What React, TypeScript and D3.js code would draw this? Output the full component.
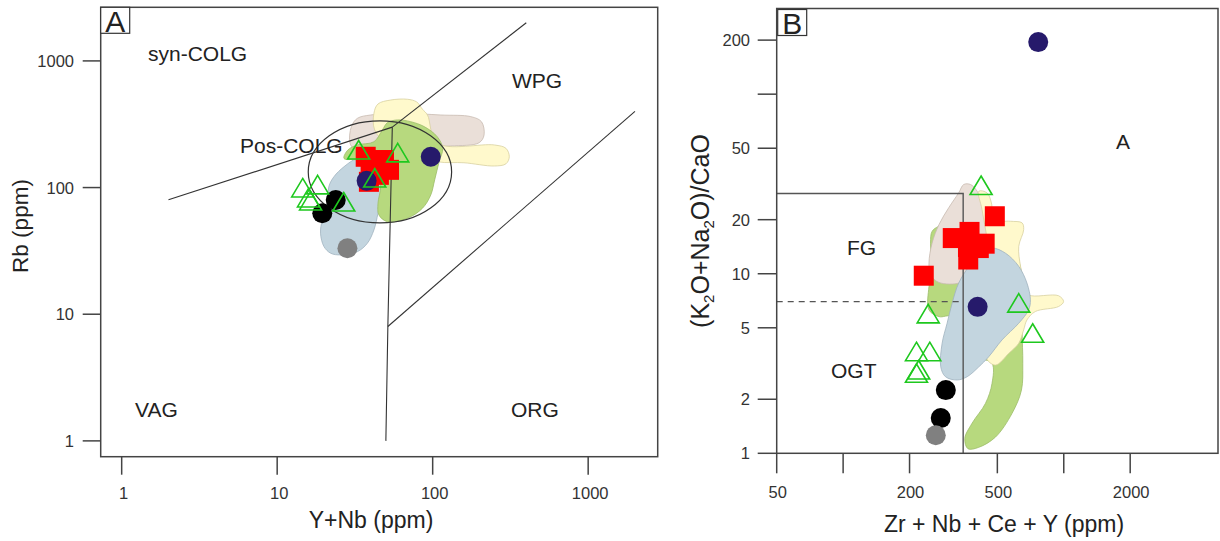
import React from 'react';
import * as d3 from 'd3';

type P = [number, number];

// ---------- Panel A (Rb vs Y+Nb) ----------
const aXTicks = [1, 10, 100, 1000];
const aYTicks = [1, 10, 100, 1000];

const aBeige: P[] = [[29.4,224],[30.0,303],[32.8,352],[39.9,374],[62.3,386],[113,374],[176,363],[206,331],[214,260],[199,226],[131,213],[79.8,210],[41.9,210],[31.2,204]];
const aYellow: P[] = [[42.4,285],[41.9,386],[44.5,457],[53.7,491],[68.8,498],[79.0,474],[86.0,415],[92.6,374],[107,224],[249,217],[296,204],[311,175],[296,154],[249,148],[159,157],[107,160],[53.7,210]];
const aBlue: P[] = [[32.8,170],[44.1,170],[51.1,155],[49.9,115],[46.3,79.8],[44.5,62.7],[41.9,46.3],[38.0,36.3],[32.8,31.2],[25.6,29.4],[22.1,30.3],[20.0,34.2],[19.0,43.6],[19.5,55.5],[21.0,70.7],[21.5,102],[23.2,122],[26.9,146]];
const aGreen: P[] = [[26.9,170],[28.5,198],[32.8,217],[41.9,230],[47.5,285],[51.1,325],[59.3,342],[72.3,331],[88.1,303],[107,252],[116,204],[110,160],[103,115],[97.2,87.4],[86.0,68.7],[68.8,57.3],[51.1,53.8],[45.1,60.8],[44.5,75.2],[46.3,102],[44.1,146],[32.8,165]];

// Pearce et al. boundaries
const aLines: P[][] = [
  [[2, 80], [55, 300]],
  [[55, 300], [400, 2000]],
  [[55, 300], [51.5, 8], [50, 1]],
  [[51.5, 8], [2000, 400]],
];
const aEllipseCenter: P = [45.8, 133];
const aEllipseDecades: P = [0.461, 0.403];

const aRed: P[] = [[37.1,175],[48.6,165],[52.4,138],[39.9,146],[38.9,111],[45.1,126]];
const aDarkBlue: P[] = [[97.2,175],[37.6,113]];
const aBlack: P[] = [[23.8,79.8],[19.5,62.7]];
const aGray: P[] = [[28.3,33.2]];
const aTri: P[] = [[33.4,198],[59.6,188],[42.4,119],[14.6,99.3],[18.2,105],[15.9,82.8],[16.4,78.4],[26.8,76.9]];

// ---------- Panel B ((K2O+Na2O)/CaO vs Zr+Nb+Ce+Y) ----------
const bXTicks = [50, 100, 200, 500, 1000, 2000];
const bXLabels = ['50', '', '200', '500', '', '2000'];
const bYTicks = [1, 2, 5, 10, 20, 50, 100, 200];
const bYLabels = ['1', '2', '5', '10', '20', '50', '', '200'];

const bGreen: P[] = [[253,17.2],[272,18.4],[359,20.0],[473,20.0],[604,13.0],[647,9.66],[647,4.87],[652,3.17],[643,2.25],[583,1.67],[490,1.23],[412,1.08],[368,1.06],[356,1.21],[384,1.47],[442,1.90],[473,2.45],[473,3.17],[412,3.45],[312,5.77],[272,5.77],[245,6.29],[245,8.49],[253,10.5],[249,14.8]];
const bBeige: P[] = [[352,31.4],[378,31.4],[405,28.8],[426,24.8],[457,20.0],[490,15.5],[490,13.0],[457,12.5],[346,9.26],[334,8.87],[272,8.94],[249,9.87],[245,11.5],[253,14.8],[272,18.8],[301,23.3],[334,28.2]];
const bYellow: P[] = [[412,28.8],[449,28.2],[470,24.8],[482,20.0],[573,19.6],[647,19.2],[658,17.6],[625,14.2],[637,11.0],[670,8.49],[693,7.63],[948,7.54],[998,7.0],[948,6.57],[743,6.16],[681,5.53],[658,4.87],[625,4.10],[564,3.61],[490,3.10],[442,3.45],[457,6.86],[457,13.0],[426,22.8]];
const bBlue: P[] = [[473,13.9],[545,13.0],[625,11.0],[681,8.87],[706,7.16],[693,6.29],[625,5.30],[525,4.28],[457,3.45],[412,3.03],[365,2.67],[329,2.56],[291,2.67],[277,3.03],[281,4.10],[296,5.30],[312,6.86],[334,8.87],[372,11.0],[412,12.8]];

const bSolidLines: P[][] = [
  [[50, 28], [350, 28], [350, 1]],
];
const bDashedLines: P[][] = [
  [[50, 7], [350, 7]],
];

const bRed: P[] = [[232,9.75],[487,20.9],[314,15.8],[374,17.1],[438,14.7],[368,14.1],[369,12.0],[412,13.9]];
const bDarkBlue: P[] = [[766,195],[407,6.54]];
const bBlack: P[] = [[292,2.25],[277,1.57]];
const bGray: P[] = [[263,1.26]];
const bTri: P[] = [[422,31.0],[625,6.86],[723,4.66],[243,5.98],[215,3.68],[247,3.68],[220,2.91],[215,2.79]];

// ---------- styles ----------
const FONT = "'Liberation Sans', Arial, Helvetica, sans-serif";
const AXIS = '#444';
const C = {
  beige: '#eadfd8', beigeS: '#c8bab0',
  yellow: '#fff9cc', yellowS: '#d8d0a0',
  green: '#b7d97e', greenS: '#9cbd68',
  blue: '#c3d5df', blueS: '#9fb3bf',
  red: '#ff0000', dark: '#261a6b', black: '#000000', gray: '#808080', tri: '#1ec81e',
};

function triPath(cx: number, cy: number) {
  return `M${cx},${cy - 9.5}L${cx + 11},${cy + 9}L${cx - 11},${cy + 9}Z`;
}

export default function App() {
  const xA = d3.scaleLog().domain([0.733, 2800]).range([100.7, 657.7]);
  const yA = d3.scaleLog().domain([0.75, 2650]).range([456.7, 7.3]);
  const xB = d3.scaleLog().domain([50, 5000]).range([776.7, 1218]);
  const yB = d3.scaleLog().domain([1, 300]).range([453.3, 8.5]);

  const blobA = d3.line<P>().x(d => xA(d[0])).y(d => yA(d[1])).curve(d3.curveCatmullRomClosed.alpha(0.5));
  const blobB = d3.line<P>().x(d => xB(d[0])).y(d => yB(d[1])).curve(d3.curveCatmullRomClosed.alpha(0.5));
  const segA = d3.line<P>().x(d => xA(d[0])).y(d => yA(d[1]));
  const segB = d3.line<P>().x(d => xB(d[0])).y(d => yB(d[1]));

  const [xa0, xa1] = xA.range();
  const [ya0, ya1] = yA.range();
  const [xb0, xb1] = xB.range();
  const [yb0, yb1] = yB.range();

  const ecx = xA(aEllipseCenter[0]);
  const ecy = yA(aEllipseCenter[1]);
  const erx = xA(aEllipseCenter[0] * Math.pow(10, aEllipseDecades[0])) - ecx;
  const ery = ecy - yA(aEllipseCenter[1] * Math.pow(10, aEllipseDecades[1]));

  const markers = (xs: any, ys: any, red: P[], dark: P[], black: P[], gray: P[], tri: P[]) => (
    <g>
      {red.map((d, i) => <rect key={'r' + i} x={xs(d[0]) - 10} y={ys(d[1]) - 10} width={20} height={20} fill={C.red} />)}
      {dark.map((d, i) => <circle key={'d' + i} cx={xs(d[0])} cy={ys(d[1])} r={10} fill={C.dark} />)}
      {black.map((d, i) => <circle key={'b' + i} cx={xs(d[0])} cy={ys(d[1])} r={10} fill={C.black} />)}
      {gray.map((d, i) => <circle key={'g' + i} cx={xs(d[0])} cy={ys(d[1])} r={10} fill={C.gray} />)}
      {tri.map((d, i) => <path key={'t' + i} d={triPath(xs(d[0]), ys(d[1]))} fill="none" stroke={C.tri} strokeWidth={1.6} />)}
    </g>
  );

  return (
    <svg width={1220} height={541} style={{ position: 'absolute', left: 0, top: 0, background: '#fff' }} fontFamily={FONT}>
      <rect x={0} y={0} width={1220} height={541} fill="#fff" />

      {/* ================= Panel A ================= */}
      <g>
        <path d={blobA(aBeige) || ''} fill={C.beige} stroke={C.beigeS} strokeWidth={0.8} />
        <path d={blobA(aYellow) || ''} fill={C.yellow} stroke={C.yellowS} strokeWidth={0.8} />
        <path d={blobA(aBlue) || ''} fill={C.blue} stroke={C.blueS} strokeWidth={0.8} />
        <path d={blobA(aGreen) || ''} fill={C.green} stroke={C.greenS} strokeWidth={0.8} />
        {aLines.map((l, i) => <path key={i} d={segA(l) || ''} fill="none" stroke="#333" strokeWidth={1.1} />)}
        <ellipse cx={ecx} cy={ecy} rx={erx} ry={ery} fill="none" stroke="#333" strokeWidth={1.2} />
        {markers(xA, yA, aRed, aDarkBlue, aBlack, aGray, aTri)}

        <rect x={xa0} y={ya1} width={xa1 - xa0} height={ya0 - ya1} fill="none" stroke={AXIS} strokeWidth={1.5} />
        {aXTicks.map(t => (
          <g key={t}>
            <line x1={xA(t)} x2={xA(t)} y1={ya0} y2={ya0 + 18} stroke={AXIS} strokeWidth={1.5} />
            <text x={xA(t) + 2} y={499} textAnchor="middle" fontSize={16.5} fill="#333">{t}</text>
          </g>
        ))}
        {aYTicks.map(t => (
          <g key={t}>
            <line x1={xa0 - 18} x2={xa0} y1={yA(t)} y2={yA(t)} stroke={AXIS} strokeWidth={1.5} />
            <text x={74} y={yA(t) + 6} textAnchor="end" fontSize={16.5} fill="#333">{t}</text>
          </g>
        ))}
        <rect x={xa0} y={ya1} width={29} height={26} fill="#fff" stroke="#333" strokeWidth={1.2} />
        <text x={xa0 + 14.5} y={ya1 + 24.5} textAnchor="middle" fontSize={30} fill="#222">A</text>

        <text x={148} y={61} fontSize={21} fill="#222">syn-COLG</text>
        <text x={240} y={153} fontSize={21} fill="#222">Pos-COLG</text>
        <text x={512} y={88} fontSize={21} fill="#222">WPG</text>
        <text x={135} y={417} fontSize={21} fill="#222">VAG</text>
        <text x={511} y={417} fontSize={21} fill="#222">ORG</text>

        <text x={371} y={528} textAnchor="middle" fontSize={23} fill="#222">Y+Nb (ppm)</text>
        <text transform="translate(28,226) rotate(-90)" textAnchor="middle" fontSize={22.5} fill="#222">Rb (ppm)</text>
      </g>

      {/* ================= Panel B ================= */}
      <g>
        <path d={blobB(bGreen) || ''} fill={C.green} stroke={C.greenS} strokeWidth={0.8} />
        <path d={blobB(bBeige) || ''} fill={C.beige} stroke={C.beigeS} strokeWidth={0.8} />
        <path d={blobB(bYellow) || ''} fill={C.yellow} stroke={C.yellowS} strokeWidth={0.8} />
        <path d={blobB(bBlue) || ''} fill={C.blue} stroke={C.blueS} strokeWidth={0.8} />
        {bSolidLines.map((l, i) => <path key={i} d={segB(l) || ''} fill="none" stroke="#555" strokeWidth={1.4} />)}
        {bDashedLines.map((l, i) => <path key={i} d={segB(l) || ''} fill="none" stroke="#555" strokeWidth={1.2} strokeDasharray="6,5" />)}
        {markers(xB, yB, bRed, bDarkBlue, bBlack, bGray, bTri)}

        <rect x={xb0} y={yb1} width={xb1 - xb0} height={yb0 - yb1} fill="none" stroke={AXIS} strokeWidth={1.5} />
        {bXTicks.map((t, i) => (
          <g key={t}>
            <line x1={xB(t)} x2={xB(t)} y1={yb0} y2={yb0 + 20} stroke={AXIS} strokeWidth={1.5} />
            <text x={xB(t) + 1} y={498} textAnchor="middle" fontSize={16.5} fill="#333">{bXLabels[i]}</text>
          </g>
        ))}
        {bYTicks.map((t, i) => (
          <g key={t}>
            <line x1={xb0 - 19} x2={xb0} y1={yB(t)} y2={yB(t)} stroke={AXIS} strokeWidth={1.5} />
            <text x={750} y={yB(t) + 6} textAnchor="end" fontSize={16.5} fill="#333">{bYLabels[i]}</text>
          </g>
        ))}
        <rect x={xb0 + 1} y={yb1 + 1} width={29} height={26} fill="#fff" stroke="#333" strokeWidth={1.2} />
        <text x={xb0 + 15.5} y={yb1 + 25} textAnchor="middle" fontSize={30} fill="#222">B</text>

        <text x={1116} y={149} fontSize={21} fill="#222">A</text>
        <text x={847} y={255} fontSize={21} fill="#222">FG</text>
        <text x={831} y={378} fontSize={21} fill="#222">OGT</text>

        <text x={1004} y={532} textAnchor="middle" fontSize={23} fill="#222">Zr + Nb + Ce + Y (ppm)</text>
        <text transform="translate(709,231) rotate(-90)" textAnchor="middle" fontSize={25} fill="#222">
          (K<tspan fontSize={15} dy={5}>2</tspan><tspan dy={-5}>O+Na</tspan><tspan fontSize={15} dy={5}>2</tspan><tspan dy={-5}>O)/CaO</tspan>
        </text>
      </g>
    </svg>
  );
}
